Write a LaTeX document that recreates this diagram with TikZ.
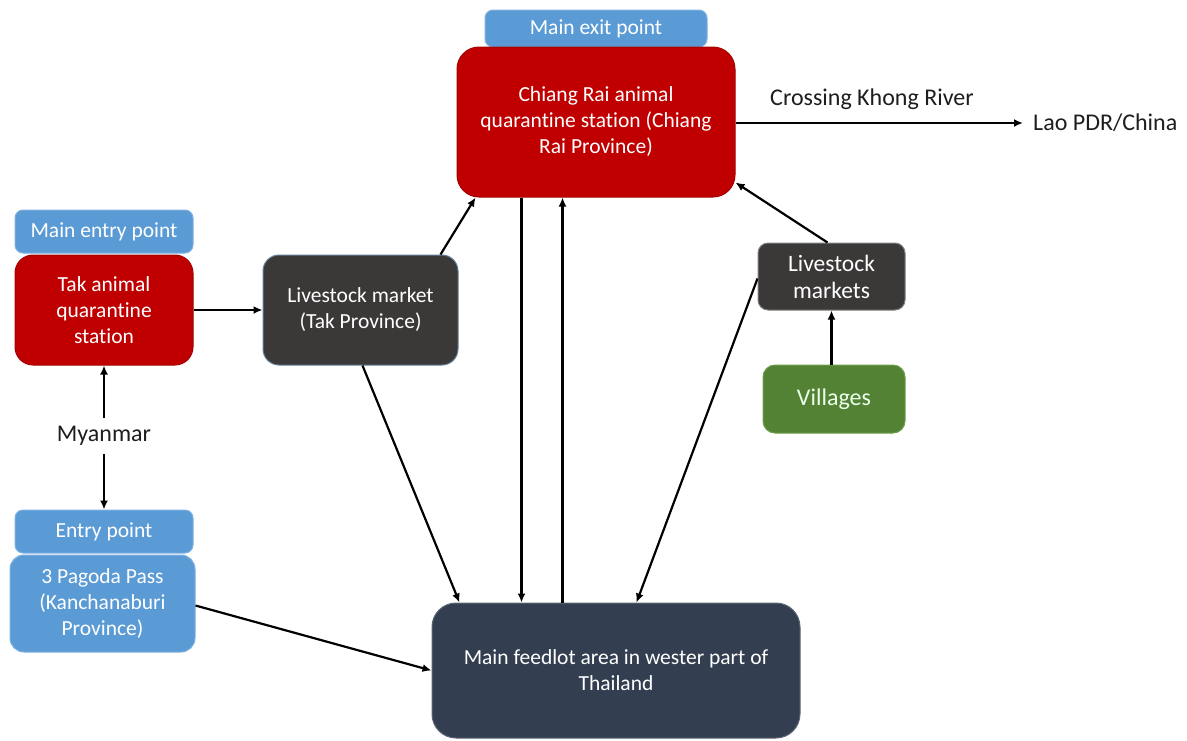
\documentclass[tikz,border=0pt]{standalone}
\usepackage{fontspec}
\setmainfont{Carlito}[Ligatures=NoCommon]
\usetikzlibrary{arrows.meta,calc}
\definecolor{qred}{HTML}{C00000}
\definecolor{qredb}{HTML}{A50000}
\definecolor{qblue}{HTML}{5B9BD5}
\definecolor{qblueb}{HTML}{7FB2E0}
\definecolor{qdark}{HTML}{3B3838}
\definecolor{qnavy}{HTML}{333F50}
\definecolor{qgreen}{HTML}{548235}
\definecolor{qgreenb}{HTML}{6E9E4C}
\definecolor{qtext}{HTML}{1E1E1E}
\tikzset{
  boxbase/.style={inner sep=0pt, align=center, text=white, line width=1pt,
    font=\fontsize{21.5}{26}\selectfont},
  redbox/.style={boxbase, fill=qred, draw=qredb, rounded corners=22pt},
  bluelabel/.style={boxbase, fill=qblue, draw=qblueb, rounded corners=8pt},
  bluebox/.style={boxbase, fill=qblue, draw=qblueb, rounded corners=14pt},
  darkbox/.style={boxbase, fill=qdark, draw=qblueb!60!qdark, rounded corners=16pt},
  darksmall/.style={boxbase, fill=qdark, draw=gray, rounded corners=10pt, font=\fontsize{23.5}{27}\selectfont},
  navybox/.style={boxbase, fill=qnavy, draw=qnavy!80!white, rounded corners=24pt},
  greenbox/.style={boxbase, fill=qgreen, draw=qgreenb, rounded corners=12pt, text=green!8!white, font=\fontsize{24}{28}\selectfont},
  plainlabel/.style={inner sep=0pt, text=qtext, font=\fontsize{24}{28}\selectfont},
  flow/.style={line width=2.2pt, draw=black, -{Latex[length=9pt,width=8pt]}},
}
\begin{document}
\begin{tikzpicture}[x=1pt,y=-1pt]
\useasboundingbox[fill=white] (0,0) rectangle (1187,740);

% Nodes
\node[bluelabel, minimum width=222pt, minimum height=37pt] (exitlbl) at (596,28.5) {Main exit point};
\node[redbox, minimum width=278pt, minimum height=150pt] (cr) at (596,122) {Chiang Rai animal\\quarantine station (Chiang\\Rai Province)};

\node[bluelabel, minimum width=178pt, minimum height=43pt] (entrylbl) at (104,231.5) {Main entry point};
\node[redbox, rounded corners=18pt, minimum width=178pt, minimum height=110pt] (tak) at (104,310) {Tak animal\\quarantine\\station};

\node[darkbox, minimum width=195pt, minimum height=110pt] (takmkt) at (360.5,310) {Livestock market\\(Tak Province)};

\node[plainlabel] (myanmar) at (104,436) {Myanmar};

\node[bluelabel, minimum width=178pt, minimum height=43pt] (eplbl) at (104,531.5) {Entry point};
\node[bluebox, minimum width=185pt, minimum height=97pt] (pagoda) at (102.5,603.5) {3 Pagoda Pass\\(Kanchanaburi\\Province)};

\node[darksmall, minimum width=147pt, minimum height=67pt] (mkts) at (831.5,276.5) {Livestock\\markets};
\node[greenbox, minimum width=142pt, minimum height=68pt] (vill) at (834,399) {Villages};

\node[navybox, minimum width=368pt, minimum height=135pt] (feed) at (616,670.5) {Main feedlot area in wester part of\\Thailand};

\node[plainlabel, anchor=west] (lao) at (1033,123) {Lao PDR/China};
\node[plainlabel] (khong) at (872,99) {Crossing Khong River};

% Helper coordinates
\coordinate (laoin) at ($(lao.west)+(-10,0)$);
\coordinate (crdn) at ($(cr.south west)+(65,0)$);
\coordinate (crup) at ($(cr.south west)+(106,0)$);
\coordinate (feeddn) at (crdn |- feed.north);
\coordinate (feedup) at (crup |- feed.north);
\coordinate (mytop) at ($(myanmar.north)+(0,-8)$);
\coordinate (mybot) at ($(myanmar.south)+(0,8)$);

% Connectors
\draw[flow] (cr.east |- laoin) -- (laoin);
\draw[flow] (tak.east) -- (takmkt.west);
\draw[flow] ($(takmkt.north east)+(-18,0)$) -- ($(cr.south west)+(19,0)$);
\draw[flow] ($(takmkt.south west)+(100,0)$) -- ($(feed.north west)+(28,0)$);
\draw[flow] (crdn) -- (feeddn);
\draw[flow] (feedup) -- (crup);
\draw[flow] ($(mkts.west)+(0,2)$) -- ($(feed.north west)+(205,0)$);
\draw[flow] ($(mkts.north west)+(70,0)$) -- ($(cr.south east)+(0,-15)$);
\draw[flow] (vill.north -| mkts.south) -- (mkts.south);
\draw[flow] (mytop) -- (tak.south);
\draw[flow] (mybot) -- (eplbl.north);
\draw[flow] ($(pagoda.east)+(0,2)$) -- (feed.west);
\end{tikzpicture}
\end{document}
